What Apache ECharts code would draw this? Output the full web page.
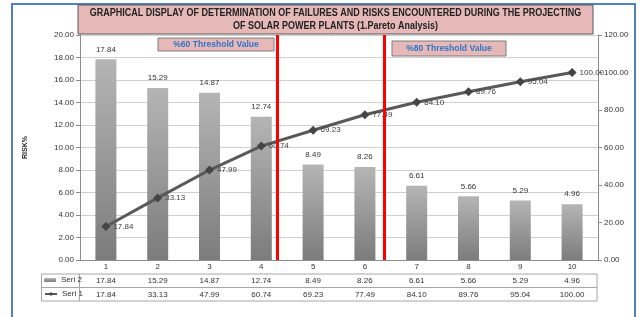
<!DOCTYPE html>
<html lang="en">
<head>
    <meta charset="UTF-8">
    <script src="https://cdn.jsdelivr.net/npm/echarts@6/dist/echarts.min.js"></script>
    <style>
        * { margin: 0; padding: 0; }
        body { background: #fff; }
        #chart { width: 641px; height: 317px; }
    </style>
</head>
<body>
<div id="chart"></div>
<script>
    // values (data table)
    const categories = ['1', '2', '3', '4', '5', '6', '7', '8', '9', '10'];
    const seri2 = [17.84, 15.29, 14.87, 12.74, 8.49, 8.26, 6.61, 5.66, 5.29, 4.96];
    const seri1 = [17.84, 33.13, 47.99, 60.74, 69.23, 77.49, 84.10, 89.76, 95.04, 100.00];
    const leftTicks = { min: 0, max: 20, interval: 2 };
    const rightTicks = { min: 0, max: 120, interval: 20 };
    // threshold separators, in category units from the left edge of the plot
    const thresholds = [3.81, 5.88];

    const FONT = '"Liberation Sans Narrow", "Arial Narrow", "Liberation Sans", sans-serif';
    const fmt = v => Number(v).toFixed(2);

    const chart = echarts.init(document.getElementById('chart'));

    const option = {
        animation: false,
        textStyle: { fontFamily: FONT },
        grid: { left: 80, right: 43, top: 35, bottom: 57 },
        legend: [
            {
                data: ['Seri 2'], left: 44, top: 276, padding: 0, itemWidth: 12, itemHeight: 4,
                textStyle: { fontSize: 8, color: '#333', fontFamily: FONT }
            },
            {
                data: ['Seri 1'], left: 44, top: 290, padding: 0, itemWidth: 12, itemHeight: 5,
                textStyle: { fontSize: 8, color: '#333', fontFamily: FONT }
            }
        ],
        xAxis: [
            {
                type: 'category', data: categories,
                axisLine: { lineStyle: { color: '#8c8c8c' } },
                axisTick: { show: false },
                axisLabel: { fontSize: 8, color: '#333', margin: 3 }
            },
            { type: 'value', min: 0, max: 10, show: false },
            {
                type: 'category', data: seri2.map(fmt), position: 'bottom', offset: 14,
                axisLine: { show: false }, axisTick: { show: false },
                axisLabel: { fontSize: 8, color: '#333', margin: 3 }
            },
            {
                type: 'category', data: seri1.map(fmt), position: 'bottom', offset: 28,
                axisLine: { show: false }, axisTick: { show: false },
                axisLabel: { fontSize: 8, color: '#333', margin: 3 }
            }
        ],
        yAxis: [
            {
                type: 'value', ...leftTicks,
                name: 'RISK%', nameLocation: 'middle', nameGap: 51, nameRotate: 90,
                nameTextStyle: { fontSize: 7, fontWeight: 'bold', color: '#222' },
                axisLine: { show: true, lineStyle: { color: '#8c8c8c' } },
                axisTick: { show: true, length: 4, lineStyle: { color: '#8c8c8c' } },
                axisLabel: { fontSize: 8, color: '#333', margin: 6, formatter: fmt },
                splitLine: { lineStyle: { color: '#cfcfcf' } }
            },
            {
                type: 'value', ...rightTicks,
                axisLine: { show: true, lineStyle: { color: '#8c8c8c' } },
                axisTick: { show: true, length: 4, lineStyle: { color: '#8c8c8c' } },
                axisLabel: { fontSize: 8, color: '#333', margin: 6, formatter: fmt },
                splitLine: { show: false }
            }
        ],
        series: [
            {
                name: 'Seri 2', type: 'bar', data: seri2, barWidth: 21,
                itemStyle: {
                    color: new echarts.graphic.LinearGradient(0, 0, 0, 1, [
                        { offset: 0, color: '#b5b5b5' },
                        { offset: 1, color: '#7c7c7c' }
                    ])
                },
                label: {
                    show: true, position: 'top', distance: 6, fontSize: 8, color: '#333',
                    formatter: p => fmt(p.value)
                }
            },
            {
                name: 'Seri 1', type: 'line', data: seri1, yAxisIndex: 1,
                symbol: 'diamond', symbolSize: 9,
                lineStyle: { color: '#595959', width: 3 },
                itemStyle: { color: '#454545' },
                label: {
                    show: true, position: 'right', distance: 3, fontSize: 8, color: '#404040',
                    formatter: p => fmt(p.value)
                },
                z: 3
            },
            {
                type: 'line', data: [], xAxisIndex: 1, yAxisIndex: 0, z: 10,
                markLine: {
                    silent: true, symbol: 'none', label: { show: false },
                    lineStyle: { color: '#ff0000', width: 3, type: 'solid' },
                    data: thresholds.map(t => ({ xAxis: t }))
                }
            }
        ],
        graphic: [
            {
                type: 'rect', shape: { x: 12, y: 4, width: 623, height: 330 },
                style: { fill: null, stroke: '#4f81bd', lineWidth: 2 }, silent: true
            },
            {
                type: 'rect', shape: { x: 78, y: 5, width: 515, height: 29 },
                style: { fill: '#e6b9b8', stroke: '#595959', lineWidth: 1 }, z: 5
            },
            {
                type: 'text', x: 335.5, y: 19.5, z: 6, scaleX: 0.9,
                style: {
                    text: 'GRAPHICAL DISPLAY OF DETERMINATION OF FAILURES AND RISKS ENCOUNTERED DURING THE PROJECTING\nOF SOLAR POWER PLANTS (1.Pareto Analysis)',
                    fontFamily: FONT, fontSize: 10, fontWeight: 'bold', fill: '#222',
                    align: 'center', verticalAlign: 'middle', lineHeight: 13
                }
            },
            {
                type: 'rect', shape: { x: 158, y: 38, width: 116, height: 13 },
                style: { fill: '#e6b9b8', stroke: '#7f7f7f', lineWidth: 1 }, z: 5
            },
            {
                type: 'text', x: 216, y: 44.5, z: 6, scaleX: 0.95,
                style: {
                    text: '%60 Threshold Value', fontFamily: FONT, fontSize: 9, fontWeight: 'bold',
                    fill: '#2e75c6', align: 'center', verticalAlign: 'middle'
                }
            },
            {
                type: 'rect', shape: { x: 392, y: 41, width: 114, height: 15 },
                style: { fill: '#e6b9b8', stroke: '#7f7f7f', lineWidth: 1 }, z: 5
            },
            {
                type: 'text', x: 449, y: 48.5, z: 6, scaleX: 0.95,
                style: {
                    text: '%80 Threshold Value', fontFamily: FONT, fontSize: 9, fontWeight: 'bold',
                    fill: '#2e75c6', align: 'center', verticalAlign: 'middle'
                }
            },
            // data table frame
            {
                type: 'rect', shape: { x: 41.5, y: 274, width: 555.5, height: 27 },
                style: { fill: null, stroke: '#a6a6a6', lineWidth: 1 }, silent: true
            },
            {
                type: 'line', shape: { x1: 41.5, y1: 287.5, x2: 597, y2: 287.5 },
                style: { stroke: '#a6a6a6', lineWidth: 1 }, silent: true
            },
            {
                type: 'line', shape: { x1: 79.5, y1: 274, x2: 79.5, y2: 301 },
                style: { stroke: '#a6a6a6', lineWidth: 1 }, silent: true
            }
        ]
    };

    chart.setOption(option);
</script>
</body>
</html>
